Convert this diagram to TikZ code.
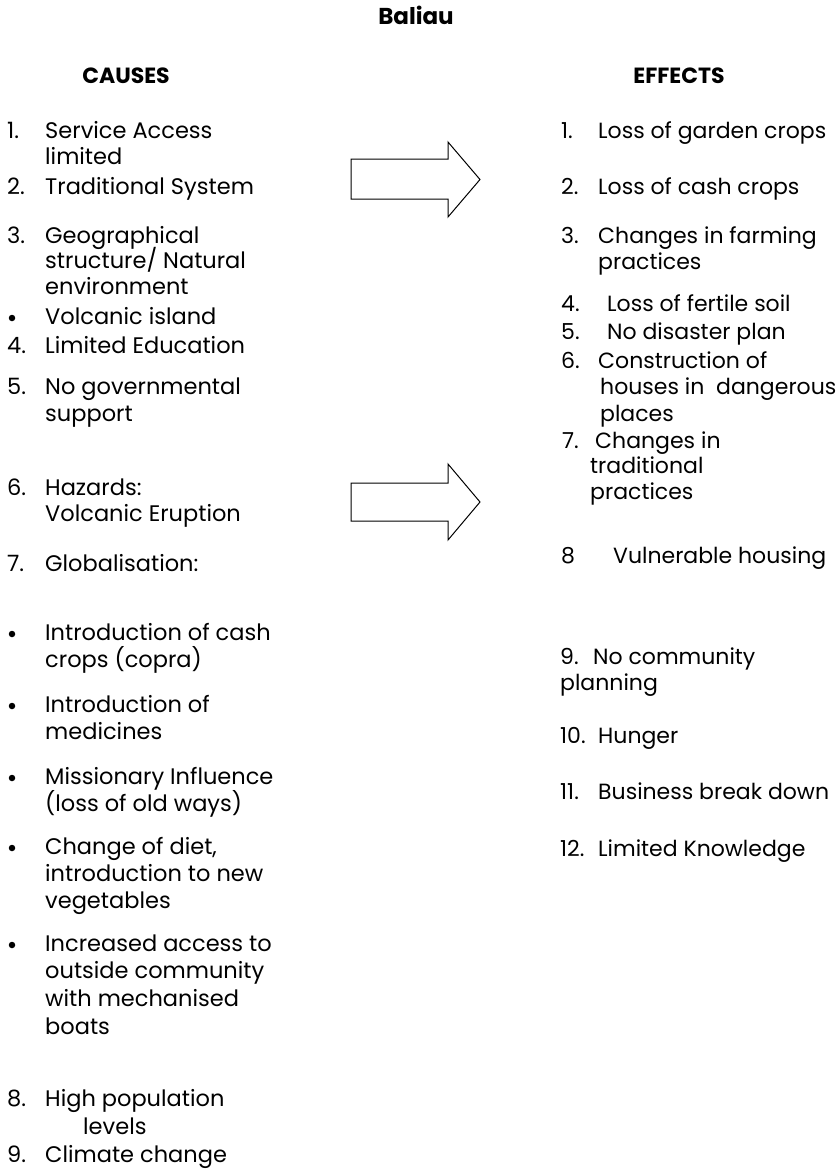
\documentclass[tikz,border=0pt]{standalone}
\usepackage{fontspec}
\setmainfont{Poppins}
\begin{document}
\begin{tikzpicture}[x=1pt,y=1pt,
  txt/.style={anchor=base west, yshift=-6.5pt, inner sep=0pt, font=\fontsize{22.5}{26}\selectfont},
  rtxt/.style={txt, font=\fontsize{22}{26}\selectfont},
  hd/.style={anchor=base, yshift=-8pt, inner sep=0pt, font=\fontsize{22}{26}\selectfont\bfseries},
  bulletdot/.style={circle, fill=black, inner sep=0pt, minimum size=6.5pt},
  blockarrow/.style={draw=black, line width=1pt, line join=miter}]
\useasboundingbox (0,0) rectangle (840,-1171);
% headings
\node[hd, font=\fontsize{23}{28}\selectfont\bfseries] (title) at (416,-16) {Baliau};
\node[hd] (causes) at (126,-75) {CAUSES};
\node[hd] (effects) at (679,-75) {EFFECTS};
% block arrows
\draw[blockarrow] (351,-159) -- (448,-159) -- (448,-142) -- (480,-179.5) -- (448,-217) -- (448,-199) -- (351,-199) -- cycle;
\draw[blockarrow] (351,-483) -- (448,-483) -- (448,-464) -- (480,-502) -- (448,-540) -- (448,-521) -- (351,-521) -- cycle;
% causes
\node[txt] (l1n) at (7,-132) {1.};
\node[txt] (l1a) at (45,-132) {Service Access};
\node[txt] (l1b) at (45,-158) {limited};
\node[txt] (l2n) at (7,-188) {2.};
\node[txt] (l2a) at (45,-188) {Traditional System};
\node[txt] (l3n) at (7,-237) {3.};
\node[txt] (l3a) at (45,-237) {Geographical};
\node[txt] (l3b) at (45,-262) {structure/ Natural};
\node[txt] (l3c) at (45,-288) {environment};
\node[bulletdot] (lb0) at (12,-318) {};
\node[txt] (lb0a) at (45,-318) {Volcanic island};
\node[txt] (l4n) at (7,-347) {4.};
\node[txt] (l4a) at (45,-347) {Limited Education};
\node[txt] (l5n) at (7,-388) {5.};
\node[txt] (l5a) at (45,-388) {No governmental};
\node[txt] (l5b) at (45,-415) {support};
\node[txt] (l6n) at (7,-489) {6.};
\node[txt] (l6a) at (45,-489) {Hazards:};
\node[txt] (l6b) at (45,-515) {Volcanic Eruption};
\node[txt] (l7n) at (7,-565) {7.};
\node[txt] (l7a) at (45,-565) {Globalisation:};
\node[bulletdot] (lb1) at (12,-634) {};
\node[txt] (lb1a) at (45,-634) {Introduction of cash};
\node[txt] (lb1b) at (45,-661) {crops (copra)};
\node[bulletdot] (lb2) at (12,-706) {};
\node[txt] (lb2a) at (45,-706) {Introduction of};
\node[txt] (lb2b) at (45,-733) {medicines};
\node[bulletdot] (lb3) at (12,-778) {};
\node[txt] (lb3a) at (45,-778) {Missionary Influence};
\node[txt] (lb3b) at (45,-805) {(loss of old ways)};
\node[bulletdot] (lb4) at (12,-848) {};
\node[txt] (lb4a) at (45,-848) {Change of diet,};
\node[txt] (lb4b) at (45,-875) {introduction to new};
\node[txt] (lb4c) at (45,-902) {vegetables};
\node[bulletdot] (lb5) at (12,-945) {};
\node[txt] (lb5a) at (45,-945) {Increased access to};
\node[txt] (lb5b) at (45,-972) {outside community};
\node[txt] (lb5c) at (45,-1000) {with mechanised};
\node[txt] (lb5d) at (45,-1028) {boats};
\node[txt] (l8n) at (7,-1100) {8.};
\node[txt] (l8a) at (45,-1100) {High population};
\node[txt] (l8b) at (83,-1128) {levels};
\node[txt] (l9n) at (7,-1156) {9.};
\node[txt] (l9a) at (45,-1156) {Climate change};
% effects
\node[rtxt] (r1n) at (561,-132) {1.};
\node[rtxt] (r1a) at (598,-132) {Loss of garden crops};
\node[rtxt] (r2n) at (561,-188) {2.};
\node[rtxt] (r2a) at (598,-188) {Loss of cash crops};
\node[rtxt] (r3n) at (561,-237) {3.};
\node[rtxt] (r3a) at (598,-237) {Changes in farming};
\node[rtxt] (r3b) at (598,-263) {practices};
\node[rtxt] (r4n) at (561,-305) {4.};
\node[rtxt] (r4a) at (607,-305) {Loss of fertile soil};
\node[rtxt] (r5n) at (561,-333) {5.};
\node[rtxt] (r5a) at (607,-333) {No disaster plan};
\node[rtxt] (r6n) at (561,-362) {6.};
\node[rtxt] (r6a) at (598,-362) {Construction of};
\node[rtxt] (r6b) at (600,-388) {houses in\ \ dangerous};
\node[rtxt] (r6c) at (600,-415) {places};
\node[rtxt] (r7n) at (562,-442) {7.};
\node[rtxt] (r7a) at (595,-442) {Changes in};
\node[rtxt] (r7b) at (590,-467) {traditional};
\node[rtxt] (r7c) at (590,-493) {practices};
\node[rtxt] (r8n) at (561,-557) {8};
\node[rtxt] (r8a) at (613,-557) {Vulnerable housing};
\node[rtxt] (r9n) at (560,-658) {9.};
\node[rtxt] (r9a) at (593,-658) {No community};
\node[rtxt] (r9b) at (560,-684) {planning};
\node[rtxt] (r10n) at (560,-737) {10.};
\node[rtxt] (r10a) at (598,-737) {Hunger};
\node[rtxt] (r11n) at (560,-793) {11.};
\node[rtxt] (r11a) at (598,-793) {Business break down};
\node[rtxt] (r12n) at (560,-850) {12.};
\node[rtxt] (r12a) at (598,-850) {Limited Knowledge};
\end{tikzpicture}
\end{document}
